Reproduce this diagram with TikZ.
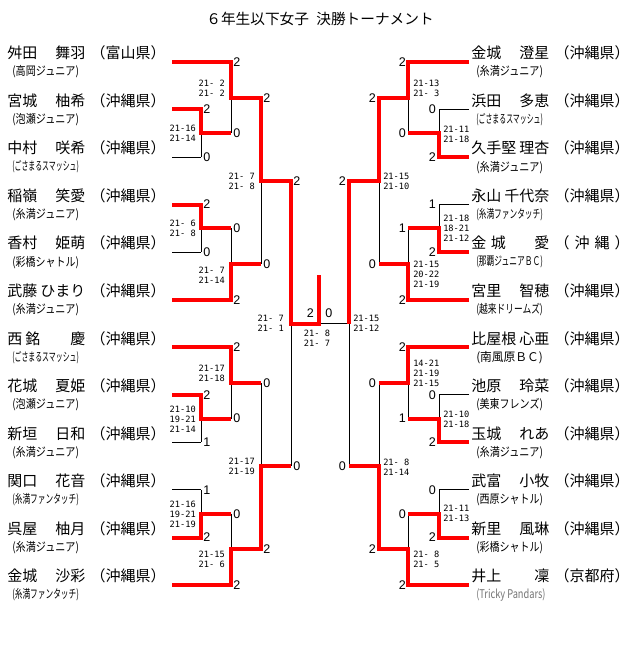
\documentclass[tikz,border=0pt]{standalone}
\usepackage{fontspec}
\usepackage{graphicx}
\newfontfamily\jpfont{Noto Sans CJK JP}
\newfontfamily\numfont{Liberation Sans}
\newfontfamily\gamefont{DejaVu Sans Mono}
\newcommand{\pl}[3]{\makebox[58.5pt][l]{#1\hfill #2}\hspace{4pt}\makebox[56.25pt][c]{#3}}
\newcommand{\team}[1]{\resizebox{50pt}{\height}{#1}}
\begin{document}
\begin{tikzpicture}[x=0.75pt, y=-0.75pt,
        win/.style={red, line width=3pt},
        lose/.style={black, line width=0.75pt},
        player/.style={anchor=west, inner sep=0pt, font=\jpfont\fontsize{11.25}{13}\selectfont},
        club/.style={anchor=west, inner sep=0pt, font=\jpfont\fontsize{9}{10}\selectfont},
        pts/.style={inner sep=0pt, font=\numfont\fontsize{9.4}{10}\selectfont},
        games/.style={inner sep=0pt, align=center, font=\gamefont\fontsize{6.5}{7.5}\selectfont}]
    \useasboundingbox (0,0) rectangle (640,645);
    \node[inner sep=0pt, font=\jpfont\fontsize{11}{13}\selectfont] (title) at (320,19) {６年生以下女子\hspace{0.5em}決勝トーナメント};

    % left block
    \node[player] (l1) at (7,53) {\pl{舛田}{舞羽}{（富山県）}};
    \node[club] (l1c) at (12,72) {\team{(高岡ジュニア)}};
    \node[player] (l2) at (7,100.5) {\pl{宮城}{柚希}{（沖縄県）}};
    \node[club] (l2c) at (12,119.5) {\team{(泡瀬ジュニア)}};
    \node[player] (l3) at (7,148.1) {\pl{中村}{咲希}{（沖縄県）}};
    \node[club] (l3c) at (12,167.1) {\team{(ごさまるスマッシュ)}};
    \node[player] (l4) at (7,195.6) {\pl{稲嶺}{笑愛}{（沖縄県）}};
    \node[club] (l4c) at (12,214.6) {\team{(糸満ジュニア)}};
    \node[player] (l5) at (7,243.2) {\pl{香村}{姫萌}{（沖縄県）}};
    \node[club] (l5c) at (12,262.2) {\team{(彩橋シャトル)}};
    \node[player] (l6) at (7,290.7) {\pl{武藤}{ひまり}{（沖縄県）}};
    \node[club] (l6c) at (12,309.7) {\team{(糸満ジュニア)}};
    \node[player] (l7) at (7,338.3) {\pl{西\hspace{0.2em}銘}{慶}{（沖縄県）}};
    \node[club] (l7c) at (12,357.3) {\team{(ごさまるスマッシュ)}};
    \node[player] (l8) at (7,385.8) {\pl{花城}{夏姫}{（沖縄県）}};
    \node[club] (l8c) at (12,404.8) {\team{(泡瀬ジュニア)}};
    \node[player] (l9) at (7,433.4) {\pl{新垣}{日和}{（沖縄県）}};
    \node[club] (l9c) at (12,452.4) {\team{(糸満ジュニア)}};
    \node[player] (l10) at (7,480.9) {\pl{関口}{花音}{（沖縄県）}};
    \node[club] (l10c) at (12,499.9) {\team{(糸満ファンタッチ)}};
    \node[player] (l11) at (7,528.5) {\pl{呉屋}{柚月}{（沖縄県）}};
    \node[club] (l11c) at (12,547.5) {\team{(糸満ジュニア)}};
    \node[player] (l12) at (7,576) {\pl{金城}{沙彩}{（沖縄県）}};
    \node[club] (l12c) at (12,595) {\team{(糸満ファンタッチ)}};

    % right block
    \node[player] (r1) at (471,53) {\pl{金城}{澄星}{（沖縄県）}};
    \node[club] (r1c) at (476,72) {\team{(糸満ジュニア)}};
    \node[player] (r2) at (471,100.5) {\pl{浜田}{多恵}{（沖縄県）}};
    \node[club] (r2c) at (476,119.5) {\team{(ごさまるスマッシュ)}};
    \node[player] (r3) at (471,148.1) {\pl{久手堅}{理杏}{（沖縄県）}};
    \node[club] (r3c) at (476,167.1) {\team{(糸満ジュニア)}};
    \node[player] (r4) at (471,195.6) {\pl{永山}{千代奈}{（沖縄県）}};
    \node[club] (r4c) at (476,214.6) {\team{(糸満ファンタッチ)}};
    \node[player] (r5) at (471,243.2) {\pl{金\hspace{0.3em}城}{愛}{\makebox[56.25pt][s]{（\hfill 沖\hfill 縄\hfill ）}}};
    \node[club] (r5c) at (476,262.2) {\team{(那覇ジュニアＢＣ)}};
    \node[player] (r6) at (471,290.7) {\pl{宮里}{智穂}{（沖縄県）}};
    \node[club] (r6c) at (476,309.7) {\team{(越来ドリームズ)}};
    \node[player] (r7) at (471,338.3) {\pl{比屋根}{心亜}{（沖縄県）}};
    \node[club] (r7c) at (476,357.3) {\team{(南風原ＢＣ)}};
    \node[player] (r8) at (471,385.8) {\pl{池原}{玲菜}{（沖縄県）}};
    \node[club] (r8c) at (476,404.8) {\team{(美東フレンズ)}};
    \node[player] (r9) at (471,433.4) {\pl{玉城}{れあ}{（沖縄県）}};
    \node[club] (r9c) at (476,452.4) {\team{(糸満ジュニア)}};
    \node[player] (r10) at (471,480.9) {\pl{武富}{小牧}{（沖縄県）}};
    \node[club] (r10c) at (476,499.9) {\team{(西原シャトル)}};
    \node[player] (r11) at (471,528.5) {\pl{新里}{風琳}{（沖縄県）}};
    \node[club] (r11c) at (476,547.5) {\team{(彩橋シャトル)}};
    \node[player] (r12) at (471,576) {\pl{井上}{凜}{（京都府）}};
    \node[club, text=black!55] (r12c) at (476,595) {\resizebox{52pt}{\height}{(Tricky Pandars)}};

    % losing lines
    \draw[lose] (172,157.1) -- (201,157.1);
    \draw[lose] (172,252.2) -- (201,252.2);
    \draw[lose] (172,442.4) -- (201,442.4);
    \draw[lose] (172,489.9) -- (201,489.9);
    \draw[lose] (201,109.5) -- (201,157.1);
    \draw[lose] (201,204.6) -- (201,252.2);
    \draw[lose] (201,394.8) -- (201,442.4);
    \draw[lose] (201,489.9) -- (201,537.5);
    \draw[lose] (231,62) -- (231,133.3);
    \draw[lose] (231,228.4) -- (231,299.7);
    \draw[lose] (231,347.3) -- (231,418.6);
    \draw[lose] (231,513.7) -- (231,585);
    \draw[lose] (261,97.7) -- (261,264);
    \draw[lose] (261,383) -- (261,549.4);
    \draw[lose] (291,180.9) -- (291,466.2);
    \draw[lose] (291,323.5) -- (349,323.5);
    \draw[lose] (469,109.5) -- (439,109.5);
    \draw[lose] (469,204.6) -- (439,204.6);
    \draw[lose] (469,394.8) -- (439,394.8);
    \draw[lose] (469,489.9) -- (439,489.9);
    \draw[lose] (439,109.5) -- (439,157.1);
    \draw[lose] (439,204.6) -- (439,252.2);
    \draw[lose] (439,394.8) -- (439,442.4);
    \draw[lose] (439,489.9) -- (439,537.5);
    \draw[lose] (408,62) -- (408,133.3);
    \draw[lose] (408,228.4) -- (408,299.7);
    \draw[lose] (408,347.3) -- (408,418.6);
    \draw[lose] (408,513.7) -- (408,585);
    \draw[lose] (379,97.7) -- (379,264);
    \draw[lose] (379,383) -- (379,549.4);
    \draw[lose] (349,180.9) -- (349,466.2);

    % winning runs, left
    \draw[win] (172,62) -- (231,62) -- (231,97.7) -- (261,97.7) -- (261,180.9) -- (291,180.9) -- (291,323.5) -- (319,323.5) -- (319,275);
    \draw[win] (172,109.5) -- (201,109.5) -- (201,133.3) -- (231,133.3);
    \draw[win] (172,204.6) -- (201,204.6) -- (201,228.4) -- (231,228.4);
    \draw[win] (172,299.7) -- (231,299.7) -- (231,264) -- (261,264);
    \draw[win] (172,347.3) -- (231,347.3) -- (231,383) -- (261,383);
    \draw[win] (172,394.8) -- (201,394.8) -- (201,418.6) -- (231,418.6);
    \draw[win] (172,537.5) -- (201,537.5) -- (201,513.7) -- (231,513.7);
    \draw[win] (172,585) -- (231,585) -- (231,549.4) -- (261,549.4) -- (261,466.2) -- (291,466.2);
    % winning runs, right
    \draw[win] (469,62) -- (408,62) -- (408,97.7) -- (379,97.7) -- (379,180.9) -- (349,180.9) -- (349,323.5);
    \draw[win] (469,157.1) -- (439,157.1) -- (439,133.3) -- (408,133.3);
    \draw[win] (469,252.2) -- (439,252.2) -- (439,228.4) -- (408,228.4);
    \draw[win] (469,299.7) -- (408,299.7) -- (408,264) -- (379,264);
    \draw[win] (469,347.3) -- (408,347.3) -- (408,383) -- (379,383);
    \draw[win] (469,442.4) -- (439,442.4) -- (439,418.6) -- (408,418.6);
    \draw[win] (469,537.5) -- (439,537.5) -- (439,513.7) -- (408,513.7);
    \draw[win] (469,585) -- (408,585) -- (408,549.4) -- (379,549.4) -- (379,466.2) -- (349,466.2);

    % points, left
    \node[pts, anchor=west] (lp1) at (233,62) {2};
    \node[pts, anchor=west] (lp2) at (203,109.5) {2};
    \node[pts, anchor=west] (lp3) at (203,157.1) {0};
    \node[pts, anchor=west] (lp4) at (233,133.3) {0};
    \node[pts, anchor=west] (lp5) at (263,97.7) {2};
    \node[pts, anchor=west] (lp6) at (203,204.6) {2};
    \node[pts, anchor=west] (lp7) at (203,252.2) {0};
    \node[pts, anchor=west] (lp8) at (233,228.4) {0};
    \node[pts, anchor=west] (lp9) at (233,299.7) {2};
    \node[pts, anchor=west] (lp10) at (263,264) {0};
    \node[pts, anchor=west] (lp11) at (293,180.9) {2};
    \node[pts, anchor=west] (lp12) at (233,347.3) {2};
    \node[pts, anchor=west] (lp13) at (203,394.8) {2};
    \node[pts, anchor=west] (lp14) at (203,442.4) {1};
    \node[pts, anchor=west] (lp15) at (233,418.6) {0};
    \node[pts, anchor=west] (lp16) at (263,383) {0};
    \node[pts, anchor=west] (lp17) at (203,489.9) {1};
    \node[pts, anchor=west] (lp18) at (203,537.5) {2};
    \node[pts, anchor=west] (lp19) at (233,513.7) {0};
    \node[pts, anchor=west] (lp20) at (233,585) {2};
    \node[pts, anchor=west] (lp21) at (263,549.4) {2};
    \node[pts, anchor=west] (lp22) at (293,466.2) {0};
    \node[pts, anchor=east] (fl) at (314,313) {2};
    \node[pts, anchor=west] (fr) at (325,313) {0};
    % points, right
    \node[pts, anchor=east] (rp1) at (406,62) {2};
    \node[pts, anchor=east] (rp2) at (436,109.5) {0};
    \node[pts, anchor=east] (rp3) at (436,157.1) {2};
    \node[pts, anchor=east] (rp4) at (406,133.3) {0};
    \node[pts, anchor=east] (rp5) at (376,97.7) {2};
    \node[pts, anchor=east] (rp6) at (436,204.6) {1};
    \node[pts, anchor=east] (rp7) at (436,252.2) {2};
    \node[pts, anchor=east] (rp8) at (406,228.4) {1};
    \node[pts, anchor=east] (rp9) at (406,299.7) {2};
    \node[pts, anchor=east] (rp10) at (376,264) {0};
    \node[pts, anchor=east] (rp11) at (346,180.9) {2};
    \node[pts, anchor=east] (rp12) at (406,347.3) {2};
    \node[pts, anchor=east] (rp13) at (436,394.8) {0};
    \node[pts, anchor=east] (rp14) at (436,442.4) {2};
    \node[pts, anchor=east] (rp15) at (406,418.6) {1};
    \node[pts, anchor=east] (rp16) at (376,383) {0};
    \node[pts, anchor=east] (rp17) at (436,489.9) {0};
    \node[pts, anchor=east] (rp18) at (436,537.5) {2};
    \node[pts, anchor=east] (rp19) at (406,513.7) {0};
    \node[pts, anchor=east] (rp20) at (406,585) {2};
    \node[pts, anchor=east] (rp21) at (376,549.4) {2};
    \node[pts, anchor=east] (rp22) at (346,466.2) {0};

    % game scores
    \node[games, anchor=east] (lg1) at (196,133.3) {21-16\\21-14};
    \node[games, anchor=east] (lg2) at (225,88) {21- 2\\21- 2};
    \node[games, anchor=east] (lg3) at (255,181) {21- 7\\21- 8};
    \node[games, anchor=east] (lg4) at (196,228.4) {21- 6\\21- 8};
    \node[games, anchor=east] (lg5) at (225,275) {21- 7\\21-14};
    \node[games, anchor=east] (lg6) at (225,373) {21-17\\21-18};
    \node[games, anchor=east] (lg7) at (196,419) {21-10\\19-21\\21-14};
    \node[games, anchor=east] (lg8) at (196,514) {21-16\\19-21\\21-19};
    \node[games, anchor=east] (lg9) at (225,559) {21-15\\21- 6};
    \node[games, anchor=east] (lg10) at (255,466) {21-17\\21-19};
    \node[games, anchor=east] (lg11) at (284,323.5) {21- 7\\21- 1};
    \node[games] (fg) at (317,338) {21- 8\\21- 7};
    \node[games, anchor=west] (rg1) at (413,88) {21-13\\21- 3};
    \node[games, anchor=west] (rg2) at (443,134) {21-11\\21-18};
    \node[games, anchor=west] (rg3) at (383,181) {21-15\\21-10};
    \node[games, anchor=west] (rg4) at (443,228) {21-18\\18-21\\21-12};
    \node[games, anchor=west] (rg5) at (413,274) {21-15\\20-22\\21-19};
    \node[games, anchor=west] (rg6) at (353,323.5) {21-15\\21-12};
    \node[games, anchor=west] (rg7) at (413,373) {14-21\\21-19\\21-15};
    \node[games, anchor=west] (rg8) at (443,419) {21-10\\21-18};
    \node[games, anchor=west] (rg9) at (383,467) {21- 8\\21-14};
    \node[games, anchor=west] (rg10) at (443,513) {21-11\\21-13};
    \node[games, anchor=west] (rg11) at (413,559) {21- 8\\21- 5};
\end{tikzpicture}
\end{document}
